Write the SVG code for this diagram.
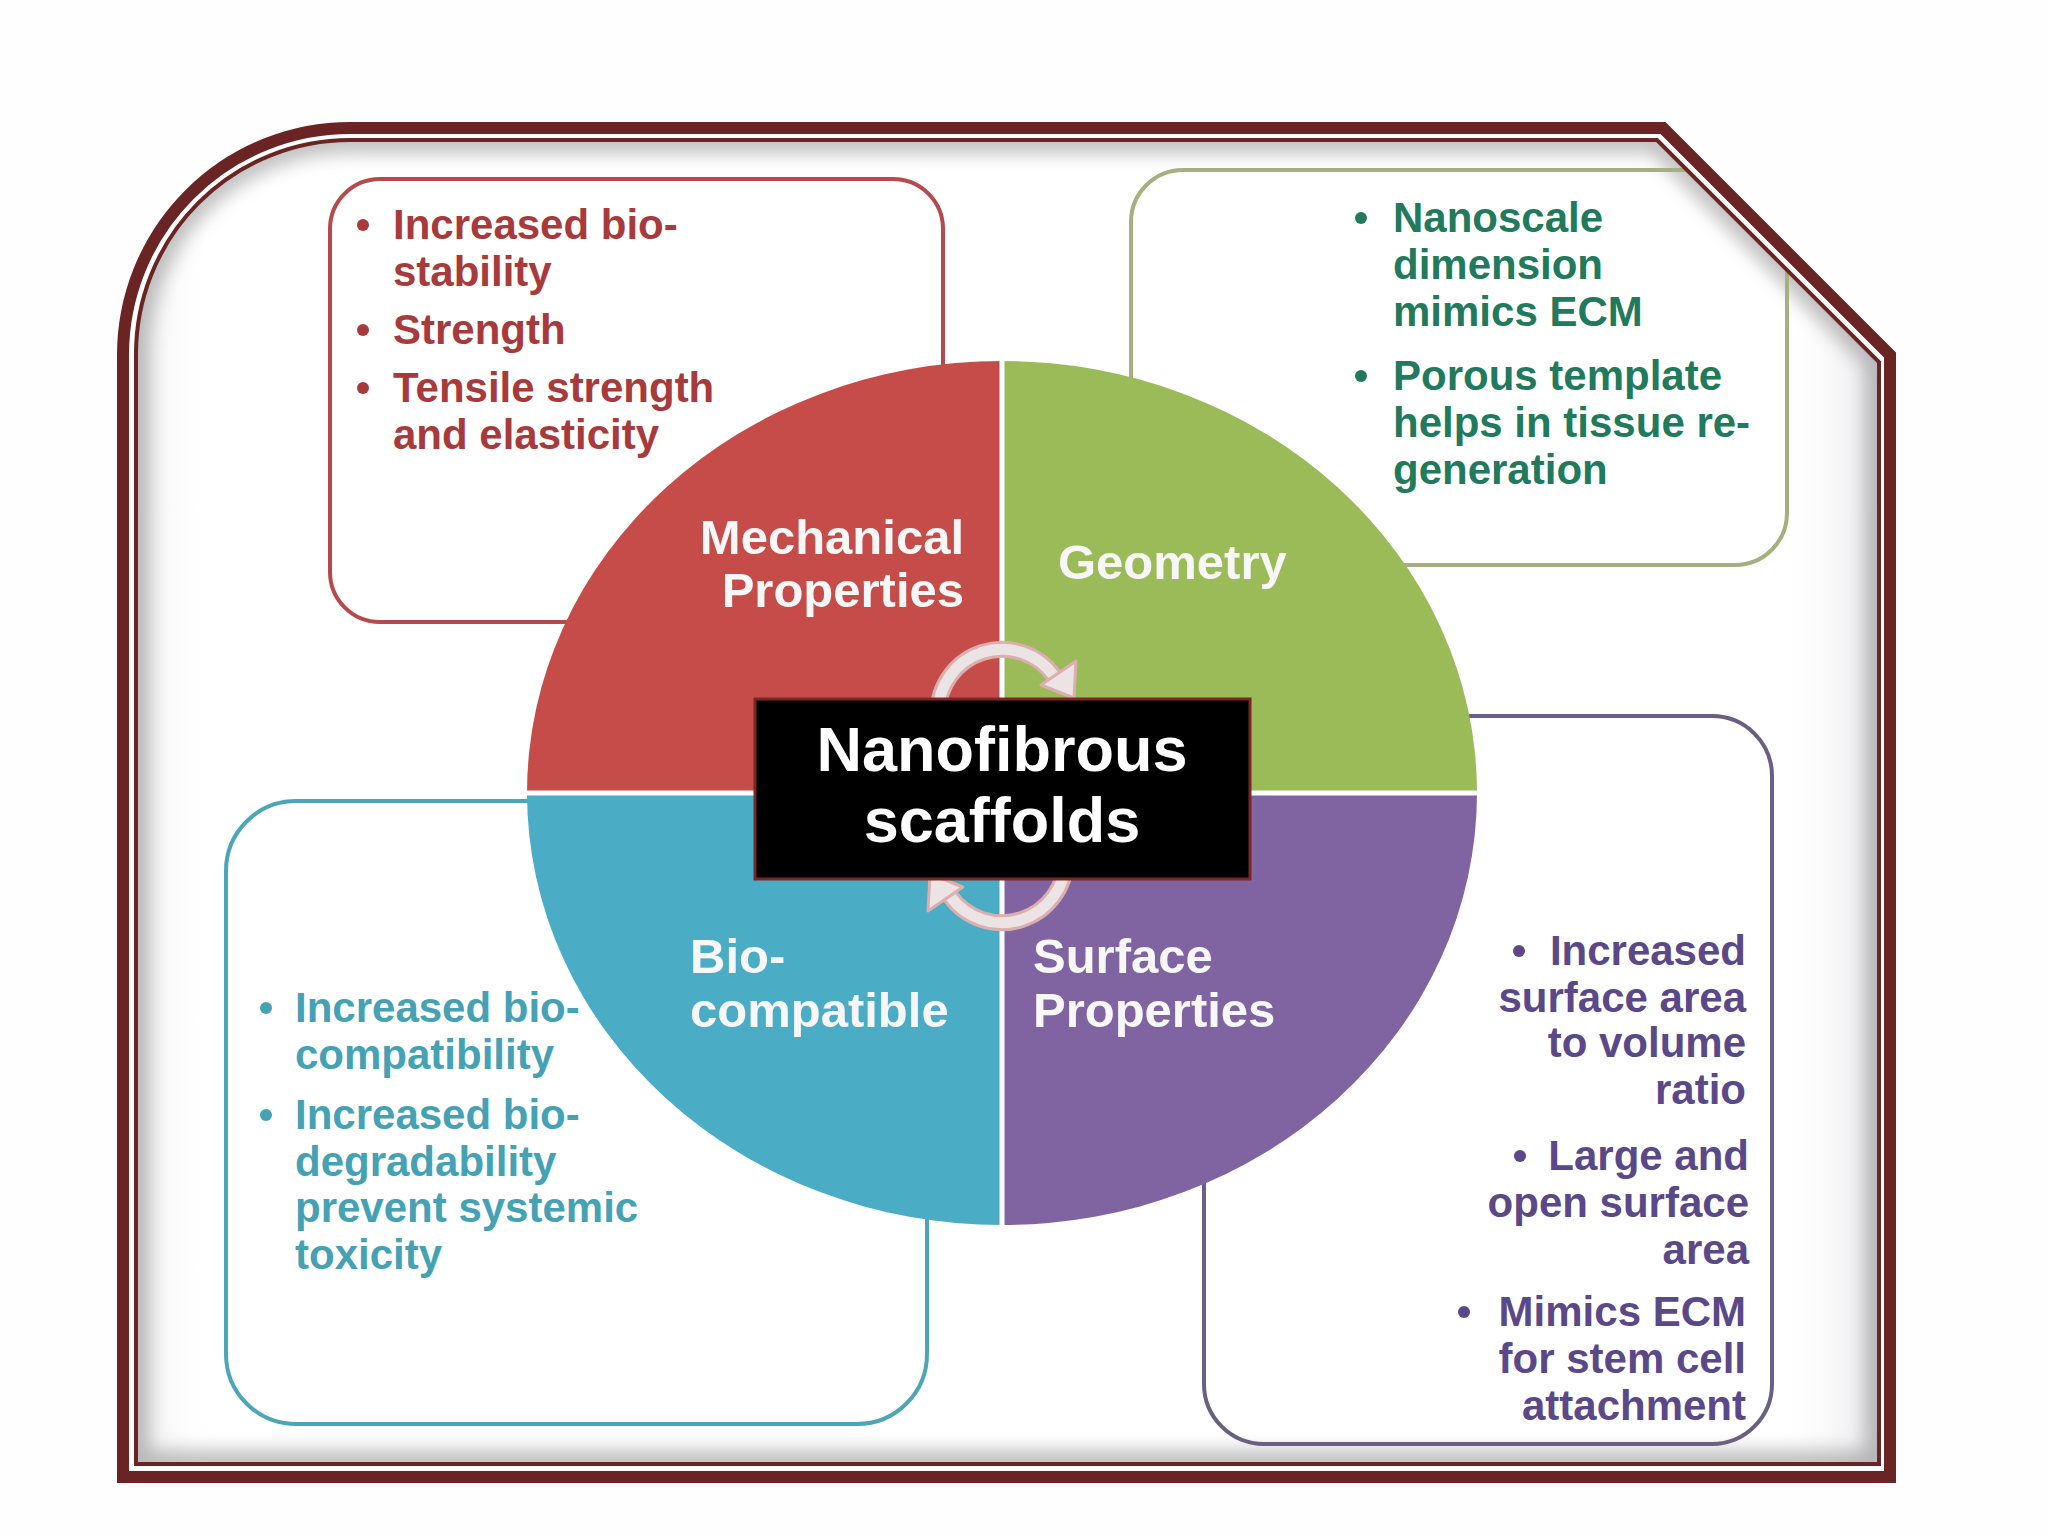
<svg xmlns="http://www.w3.org/2000/svg" width="2048" height="1536" viewBox="0 0 2048 1536">
  <defs>
    <style>
      text { font-family: "Liberation Sans", Arial, sans-serif; font-weight: bold; }
      .t42 { font-size: 42px; }
      .lab { font-size: 49px; fill: #f7f7f7; }
      .red { fill: #A83A3B; }
      .grn { fill: #217A5B; }
      .blu { fill: #45A2B4; }
      .pur { fill: #5A4888; }
      .box { fill: none; stroke-width: 4; }
      .frame { fill: none; stroke: #6B2424; }
      .arc-edge { fill: none; stroke: #dcaeae; stroke-width: 17; }
      .arc-fill { fill: none; stroke: #ece4e4; stroke-width: 11; }
      .arr-head { fill: #ece4e4; stroke: #dcaeae; stroke-width: 3; stroke-linejoin: round; }
    </style>
    <clipPath id="inner">
      <path d="M 136 1463 V 354 A 214 214 0 0 1 350 140 H 1657 L 1878 361 V 1463 Z"/>
    </clipPath>
    <filter id="blur8" x="-10%" y="-10%" width="120%" height="120%">
      <feGaussianBlur stdDeviation="9"/>
    </filter>
    <linearGradient id="rband" x1="0" y1="0" x2="1" y2="0">
      <stop offset="0" stop-color="#ffffff" stop-opacity="0"/>
      <stop offset="1" stop-color="#e6e6ea"/>
    </linearGradient>
    <linearGradient id="lband" x1="0" y1="0" x2="1" y2="0">
      <stop offset="0" stop-color="#ececec"/>
      <stop offset="1" stop-color="#ffffff" stop-opacity="0"/>
    </linearGradient>
  </defs>

  <rect x="0" y="0" width="2048" height="1536" fill="#fefefe"/>

  <!-- frame interior -->
  <g id="frame-interior" clip-path="url(#inner)">
    <rect x="130" y="130" width="1760" height="1345" fill="#ffffff"/>
    <rect x="1780" y="140" width="100" height="1330" fill="url(#rband)"/>
    <rect x="134" y="140" width="80" height="1330" fill="url(#lband)"/>
    <path d="M 136 1463 V 354 A 214 214 0 0 1 350 140 H 1657 L 1878 361 V 1463 Z" fill="none" stroke="#8a8a8a" stroke-width="26" opacity="0.55" filter="url(#blur8)"/>
  </g>

  <g id="content" clip-path="url(#inner)">
    <!-- Mechanical box -->
    <g id="box-mechanical">
      <rect class="box" x="330" y="179" width="613" height="443" rx="50" stroke="#B5494B"/>
      <circle cx="363" cy="225" r="6" class="red"/>
      <text class="t42 red" x="393" y="239">Increased bio-</text>
      <text class="t42 red" x="393" y="286">stability</text>
      <circle cx="363" cy="330" r="6" class="red"/>
      <text class="t42 red" x="393" y="344">Strength</text>
      <circle cx="363" cy="388" r="6" class="red"/>
      <text class="t42 red" x="393" y="402">Tensile strength</text>
      <text class="t42 red" x="393" y="449">and elasticity</text>
    </g>

    <!-- Geometry box -->
    <g id="box-geometry">
      <rect class="box" x="1131" y="170" width="656" height="395" rx="52" stroke="#A5AF80"/>
      <circle cx="1361" cy="218" r="6" class="grn"/>
      <text class="t42 grn" x="1393" y="232">Nanoscale</text>
      <text class="t42 grn" x="1393" y="279">dimension</text>
      <text class="t42 grn" x="1393" y="326">mimics ECM</text>
      <circle cx="1361" cy="376" r="6" class="grn"/>
      <text class="t42 grn" x="1393" y="390">Porous template</text>
      <text class="t42 grn" x="1393" y="437">helps in tissue re-</text>
      <text class="t42 grn" x="1393" y="484">generation</text>
    </g>

    <!-- Biocompatible box -->
    <g id="box-biocompatible">
      <rect class="box" x="226" y="801" width="701" height="623" rx="70" stroke="#4DA5B8"/>
      <circle cx="266" cy="1008" r="6" class="blu"/>
      <text class="t42 blu" x="295" y="1022">Increased bio-</text>
      <text class="t42 blu" x="295" y="1069">compatibility</text>
      <circle cx="266" cy="1115" r="6" class="blu"/>
      <text class="t42 blu" x="295" y="1129">Increased bio-</text>
      <text class="t42 blu" x="295" y="1176">degradability</text>
      <text class="t42 blu" x="295" y="1222">prevent systemic</text>
      <text class="t42 blu" x="295" y="1269">toxicity</text>
    </g>

    <!-- Surface box -->
    <g id="box-surface">
      <rect class="box" x="1204" y="716" width="568" height="728" rx="60" stroke="#6A5F82"/>
      <g text-anchor="end">
        <circle cx="1519" cy="951" r="6" class="pur"/>
        <text class="t42 pur" x="1746" y="965">Increased</text>
        <text class="t42 pur" x="1746" y="1012">surface area</text>
        <text class="t42 pur" x="1746" y="1057">to volume</text>
        <text class="t42 pur" x="1746" y="1104">ratio</text>
        <circle cx="1520" cy="1156" r="6" class="pur"/>
        <text class="t42 pur" x="1749" y="1170">Large and</text>
        <text class="t42 pur" x="1749" y="1217">open surface</text>
        <text class="t42 pur" x="1749" y="1264">area</text>
        <circle cx="1464" cy="1312" r="6" class="pur"/>
        <text class="t42 pur" x="1746" y="1326">Mimics ECM</text>
        <text class="t42 pur" x="1746" y="1373">for stem cell</text>
        <text class="t42 pur" x="1746" y="1420">attachment</text>
      </g>
    </g>

    <!-- Central divided circle -->
    <g id="circle">
      <path id="q-mechanical" d="M 1002 793 L 527 793 A 475 432 0 0 1 1002 361 Z" fill="#C64C4A"/>
      <path id="q-geometry" d="M 1002 793 L 1002 361 A 475 432 0 0 1 1477 793 Z" fill="#9BBB59"/>
      <path id="q-surface" d="M 1002 793 L 1477 793 A 475 432 0 0 1 1002 1225 Z" fill="#8064A2"/>
      <path id="q-biocompatible" d="M 1002 793 L 1002 1225 A 475 432 0 0 1 527 793 Z" fill="#4BACC6"/>
      <line x1="1002" y1="355" x2="1002" y2="1230" stroke="#ffffff" stroke-width="5"/>
      <line x1="520" y1="793" x2="1484" y2="793" stroke="#ffffff" stroke-width="5"/>
    </g>

    <g id="label-mechanical" text-anchor="end">
      <text class="lab" x="964" y="554">Mechanical</text>
      <text class="lab" x="964" y="607">Properties</text>
    </g>
    <g id="label-geometry">
      <text class="lab" x="1058" y="579">Geometry</text>
    </g>
    <g id="label-biocompatible">
      <text class="lab" x="690" y="973">Bio-</text>
      <text class="lab" x="690" y="1027">compatible</text>
    </g>
    <g id="label-surface">
      <text class="lab" x="1033" y="973">Surface</text>
      <text class="lab" x="1033" y="1027">Properties</text>
    </g>

    <!-- cycle arrows -->
    <g id="connectors">
      <g id="arrow-top">
        <path class="arc-edge" d="M 938 713 A 64 64 0 0 1 1054 676"/>
        <path class="arc-fill" d="M 938 713 A 64 64 0 0 1 1054 676"/>
        <polygon class="arr-head" points="1041,685 1076,661 1074,698"/>
      </g>
      <g id="arrow-bottom" transform="rotate(180 1002 786)">
        <path class="arc-edge" d="M 938 713 A 64 64 0 0 1 1054 676"/>
        <path class="arc-fill" d="M 938 713 A 64 64 0 0 1 1054 676"/>
        <polygon class="arr-head" points="1041,685 1076,661 1074,698"/>
      </g>
    </g>

    <!-- Center node -->
    <g id="node-center">
      <rect x="755" y="699" width="495" height="180" fill="#000000" stroke="#7A2626" stroke-width="3"/>
      <text x="1002" y="771" text-anchor="middle" font-size="63" fill="#ffffff">Nanofibrous</text>
      <text x="1002" y="842" text-anchor="middle" font-size="63" fill="#ffffff">scaffolds</text>
    </g>
  </g>

  <!-- outer decorative frame -->
  <g id="frame">
    <path class="frame" stroke-width="12" d="M 123 1477 V 354 A 227 227 0 0 1 350 128 H 1663 L 1890 355 V 1477 Z"/>
    <path class="frame" stroke-width="4" d="M 136 1464 V 354 A 214 214 0 0 1 350 140 H 1657 L 1879 362 V 1464 Z"/>
  </g>
</svg>
